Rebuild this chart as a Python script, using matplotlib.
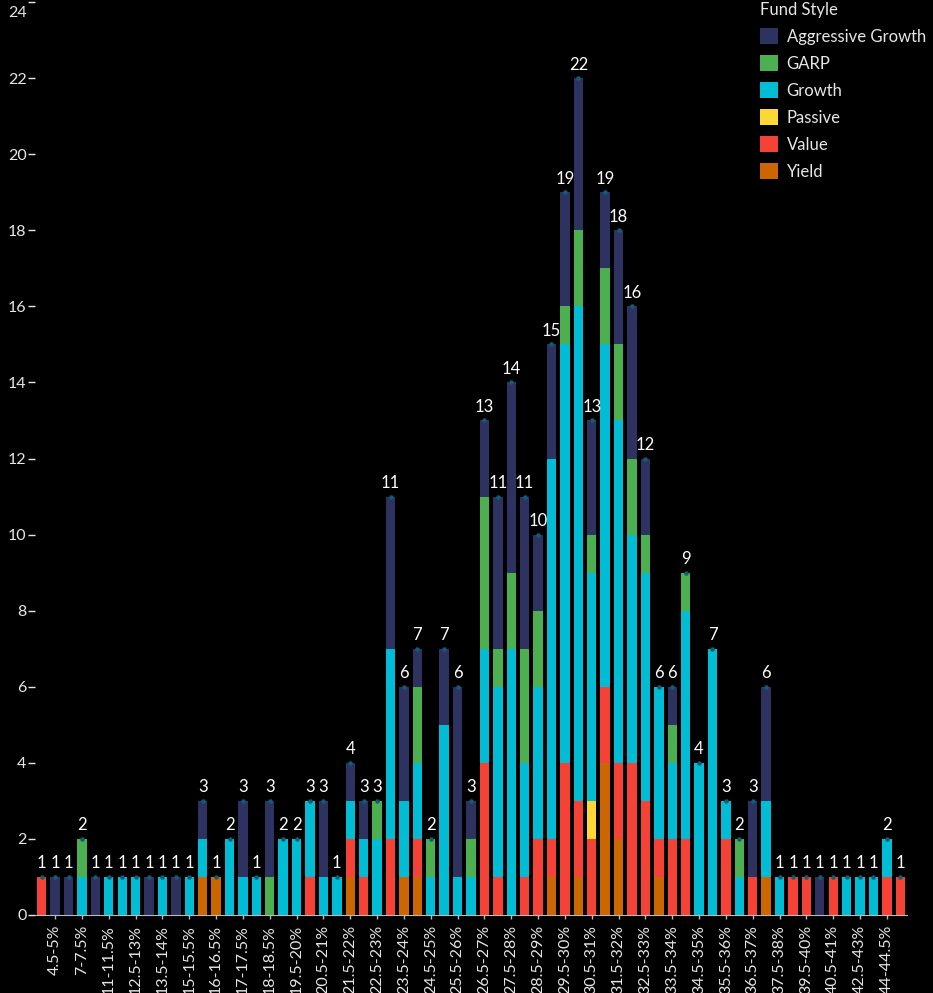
import numpy as np
import matplotlib.pyplot as plt
from matplotlib.patches import Patch

plt.rcParams['font.family'] = ['Lato', 'DejaVu Sans']

# rate bins (only the non-empty ones); every other one gets a tick label
bins = ['4-4.5%', '4.5-5%', '5-5.5%', '7-7.5%', '8-8.5%', '11-11.5%', '12-12.5%', '12.5-13%',
        '13-13.5%', '13.5-14%', '14-14.5%', '15-15.5%', '15.5-16%', '16-16.5%', '16.5-17%',
        '17-17.5%', '17.5-18%', '18-18.5%', '19-19.5%', '19.5-20%', '20-20.5%', '20.5-21%',
        '21-21.5%', '21.5-22%', '22-22.5%', '22.5-23%', '23-23.5%', '23.5-24%', '24-24.5%',
        '24.5-25%', '25-25.5%', '25.5-26%', '26-26.5%', '26.5-27%', '27-27.5%', '27.5-28%',
        '28-28.5%', '28.5-29%', '29-29.5%', '29.5-30%', '30-30.5%', '30.5-31%', '31-31.5%',
        '31.5-32%', '32-32.5%', '32.5-33%', '33-33.5%', '33.5-34%', '34-34.5%', '34.5-35%',
        '35-35.5%', '35.5-36%', '36-36.5%', '36.5-37%', '37-37.5%', '37.5-38%', '38.5-39%',
        '39.5-40%', '40-40.5%', '40.5-41%', '41.5-42%', '42.5-43%', '43.5-44%', '44-44.5%',
        '44.5-45%']

# counts per fund style, stacked bottom -> top
yield_ = [0,0,0,0,0,0,0,0,0,0,0,0,1,1,0,0,0,0,0,0,0,0,0,1,0,0,0,1,1,0,0,0,0,0,0,0,0,0,1,0,
          1,0,4,2,0,0,1,0,0,0,0,0,0,0,1,0,0,0,0,0,0,0,0,0,0]
value = [1,0,0,0,0,0,0,0,0,0,0,0,0,0,0,0,0,0,0,0,1,0,0,1,1,0,2,0,1,0,0,0,0,4,1,0,1,2,1,4,
         2,2,2,2,4,3,1,2,2,0,0,2,0,1,0,0,1,1,0,1,0,0,0,1,1]
passive = [0,0,0,0,0,0,0,0,0,0,0,0,0,0,0,0,0,0,0,0,0,0,0,0,0,0,0,0,0,0,0,0,0,0,0,0,0,0,0,0,
           0,1,0,0,0,0,0,0,0,0,0,0,0,0,0,0,0,0,0,0,0,0,0,0,0]
growth = [0,0,0,1,0,1,1,1,0,1,0,1,1,0,2,1,1,0,2,2,2,1,1,1,1,2,5,2,2,1,5,1,1,3,5,7,3,4,10,11,
          13,6,9,9,6,6,4,2,6,4,7,1,1,0,2,1,0,0,0,0,1,1,1,1,0]
garp = [0,0,0,1,0,0,0,0,0,0,0,0,0,0,0,0,0,1,0,0,0,0,0,0,0,1,0,0,2,1,0,0,1,4,1,2,3,2,0,1,
        2,1,2,2,2,1,0,1,1,0,0,0,1,0,0,0,0,0,0,0,0,0,0,0,0]
aggressive = [0,1,1,0,1,0,0,0,1,0,1,0,1,0,0,2,0,2,0,0,0,2,0,1,1,0,4,3,1,0,2,5,1,2,4,5,4,2,3,3,
              4,3,2,3,4,2,0,1,0,0,0,0,0,2,3,0,0,0,1,0,0,0,0,0,0]

styles = ['Yield', 'Value', 'Passive', 'Growth', 'GARP', 'Aggressive Growth']
series = [yield_, value, passive, growth, garp, aggressive]
colors = ['#cc6600', '#f44336', '#fdd835', '#00bcd4', '#4caf50', '#2e3260']
yticks = list(range(0, 25, 2))

fig = plt.figure(figsize=(9.33, 9.93), dpi=100, facecolor='black')
ax = fig.add_axes([35/933, 1 - 915/993, 872/933, 913/993])
ax.set_facecolor('black')

x = np.arange(len(bins))
bottom = np.zeros(len(bins))
for name, vals, c in zip(styles, series, colors):
    vals = np.array(vals)
    ax.bar(x, vals, bottom=bottom, width=0.7, color=c, label=name, linewidth=0)
    bottom += vals

# little markers on top + total labels
ax.scatter(x, bottom, s=5, color='#0d5f75', zorder=3)
for xi, tot in zip(x, bottom):
    ax.annotate(f'{int(tot)}', (xi, tot), xytext=(0, 4), textcoords='offset points',
                ha='center', va='bottom', color='white', fontsize=12)

ax.set_xlim(-0.5, len(bins) - 0.5)
ax.set_ylim(0, 24)
ax.set_yticks(yticks)
# top label is drawn separately below its tick so it is not clipped
ax.set_yticklabels([str(v) for v in yticks[:-1]] + [''])
ax.annotate(str(yticks[-1]), xy=(0, yticks[-1]), xycoords=('axes fraction', 'data'),
            xytext=(-6, -3), textcoords='offset points', ha='right', va='top',
            color='#e6e6e6', fontsize=11.5)
ax.set_xticks(x[1::2])
ax.set_xticklabels(bins[1::2], rotation=90, color='#e6e6e6', fontsize=11.5)
ax.tick_params(axis='y', colors='#e6e6e6', labelsize=11.5, length=5, width=1, pad=1)
ax.tick_params(axis='x', colors='#bbbbbb', length=3, width=1, pad=4, labelcolor='#e6e6e6')

for s in ['top', 'right', 'left']:
    ax.spines[s].set_visible(False)
ax.spines['bottom'].set_color('#bbbbbb')

# legend top right, Aggressive Growth first
handles = [Patch(facecolor=c, edgecolor='none') for c in colors][::-1]
leg = ax.legend(handles, styles[::-1], title='Fund Style', loc='upper left',
                bbox_to_anchor=(760/933, 1 - 2/993), bbox_transform=fig.transFigure,
                frameon=False, fontsize=12, title_fontsize=12, handlelength=1.1,
                handleheight=1.1, labelspacing=0.62, handletextpad=0.5,
                borderpad=0, borderaxespad=0, alignment='left')
for t in leg.get_texts():
    t.set_color('#e6e6e6')
leg.get_title().set_color('#e6e6e6')

fig.savefig('out.png', dpi=100, facecolor='black')
